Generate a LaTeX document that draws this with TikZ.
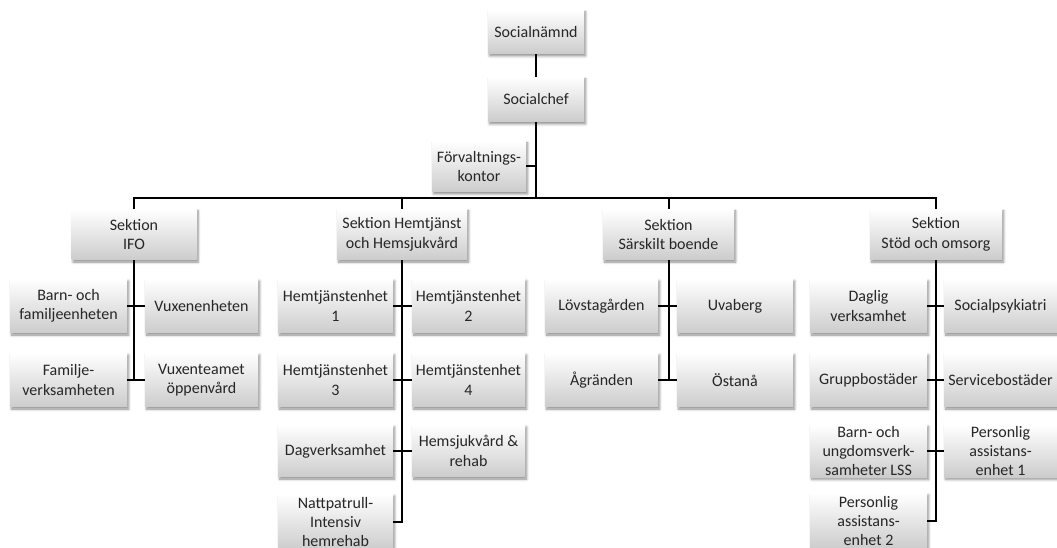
\documentclass[tikz,border=0pt]{standalone}
\usepackage{fontspec}
\setmainfont{Carlito}
\usetikzlibrary{shadows,shadows.blur}
\tikzset{
  orgbox/.style={rectangle, inner sep=1pt, align=center, text=black!85,
    font=\fontsize{12}{14.6}\selectfont,
    top color=white, bottom color=black!20,
    blur shadow={shadow xshift=1.2pt, shadow yshift=-1.5pt, shadow blur steps=6, shadow opacity=45}},
  sz/.style 2 args={minimum width=#1*0.75pt, minimum height=#2*0.75pt},
  conn/.style={draw=black, line width=1.5pt}
}
\begin{document}
\begin{tikzpicture}[x=0.75pt,y=-0.75pt]
\useasboundingbox (0,0) rectangle (1057,548);
% top
\node[orgbox, sz={96}{44}] (nam) at (536,32) {Socialnämnd};
\node[orgbox, sz={96}{45}] (chef) at (536,99.5) {Socialchef};
\node[orgbox, sz={94}{51}] (forv) at (479,166.5) {Förvaltnings-\\kontor};
\coordinate (bus) at (536,198);
% sections
\node[orgbox, sz={125}{51}] (ifo) at (134,234.5) {Sektion\\IFO};
\node[orgbox, sz={130}{51}] (hem) at (402,234.5) {Sektion Hemtjänst\\och Hemsjukvård};
\node[orgbox, sz={131}{51}] (sar) at (668.5,234.5) {Sektion\\Särskilt boende};
\node[orgbox, sz={132}{51}] (stod) at (936,234.5) {Sektion\\Stöd och omsorg};
% IFO
\node[orgbox, sz={117}{54}] (ifo1l) at (68.5,306) {Barn- och\\familjeenheten};
\node[orgbox, sz={113}{54}] (ifo1r) at (201.5,306) {Vuxenenheten};
\node[orgbox, sz={117}{54}] (ifo2l) at (68.5,380) {Familje-\\verksamheten};
\node[orgbox, sz={113}{54}] (ifo2r) at (201.5,380) {Vuxenteamet\\öppenvård};
% Hemtjanst
\node[orgbox, sz={115}{54}] (hem1l) at (335.5,306) {Hemtjänstenhet\\1};
\node[orgbox, sz={113}{54}] (hem1r) at (468.5,306) {Hemtjänstenhet\\2};
\node[orgbox, sz={115}{54}] (hem2l) at (335.5,380) {Hemtjänstenhet\\3};
\node[orgbox, sz={113}{54}] (hem2r) at (468.5,380) {Hemtjänstenhet\\4};
\node[orgbox, sz={115}{52}] (hem3l) at (335.5,451) {Dagverksamhet};
\node[orgbox, sz={113}{52}] (hem3r) at (468.5,451) {Hemsjukvård \&\\rehab};
\node[orgbox, sz={115}{56}] (hem4l) at (335.5,522) {Nattpatrull-\\Intensiv\\hemrehab};
% Sarskilt
\node[orgbox, sz={113}{54}] (sar1l) at (601.5,306) {Lövstagården};
\node[orgbox, sz={116}{54}] (sar1r) at (735,306) {Uvaberg};
\node[orgbox, sz={113}{54}] (sar2l) at (601.5,380) {Ågränden};
\node[orgbox, sz={116}{54}] (sar2r) at (735,380) {Östanå};
% Stod
\node[orgbox, sz={117}{54}] (st1l) at (868.5,306) {Daglig\\verksamhet};
\node[orgbox, sz={113}{54}] (st1r) at (1000.5,306) {Socialpsykiatri};
\node[orgbox, sz={117}{54}] (st2l) at (868.5,380) {Gruppbostäder};
\node[orgbox, sz={113}{54}] (st2r) at (1000.5,380) {Servicebostäder};
\node[orgbox, sz={117}{52}] (st3l) at (868.5,451) {Barn- och\\ungdomsverk-\\samheter LSS};
\node[orgbox, sz={113}{52}] (st3r) at (1000.5,451) {Personlig\\assistans-\\enhet 1};
\node[orgbox, sz={117}{56}] (st4l) at (868.5,521) {Personlig\\assistans-\\enhet 2};
% connectors top
\draw[conn] (nam.south) -- (chef.north);
\draw[conn] (chef.south) -- (bus);
\draw[conn] (forv.east) -- (forv.east -| bus);
\draw[conn] (ifo.north) |- (stod.north |- bus) -- (stod.north);
\draw[conn] (hem.north) -- (hem.north |- bus);
\draw[conn] (sar.north) -- (sar.north |- bus);
% IFO
\draw[conn] (ifo.south) -- (ifo.south |- ifo2l.east);
\draw[conn] (ifo1l.east) -- (ifo1r.west);
\draw[conn] (ifo2l.east) -- (ifo2r.west);
% Hem
\draw[conn] (hem.south) |- (hem4l.east);
\draw[conn] (hem1l.east) -- (hem1r.west);
\draw[conn] (hem2l.east) -- (hem2r.west);
\draw[conn] (hem3l.east) -- (hem3r.west);
% Sar
\draw[conn] (sar.south) -- (sar.south |- sar2l.east);
\draw[conn] (sar1l.east) -- (sar1r.west);
\draw[conn] (sar2l.east) -- (sar2r.west);
% Stod
\draw[conn] (stod.south) |- (st4l.east);
\draw[conn] (st1l.east) -- (st1r.west);
\draw[conn] (st2l.east) -- (st2r.west);
\draw[conn] (st3l.east) -- (st3r.west);
\end{tikzpicture}
\end{document}
